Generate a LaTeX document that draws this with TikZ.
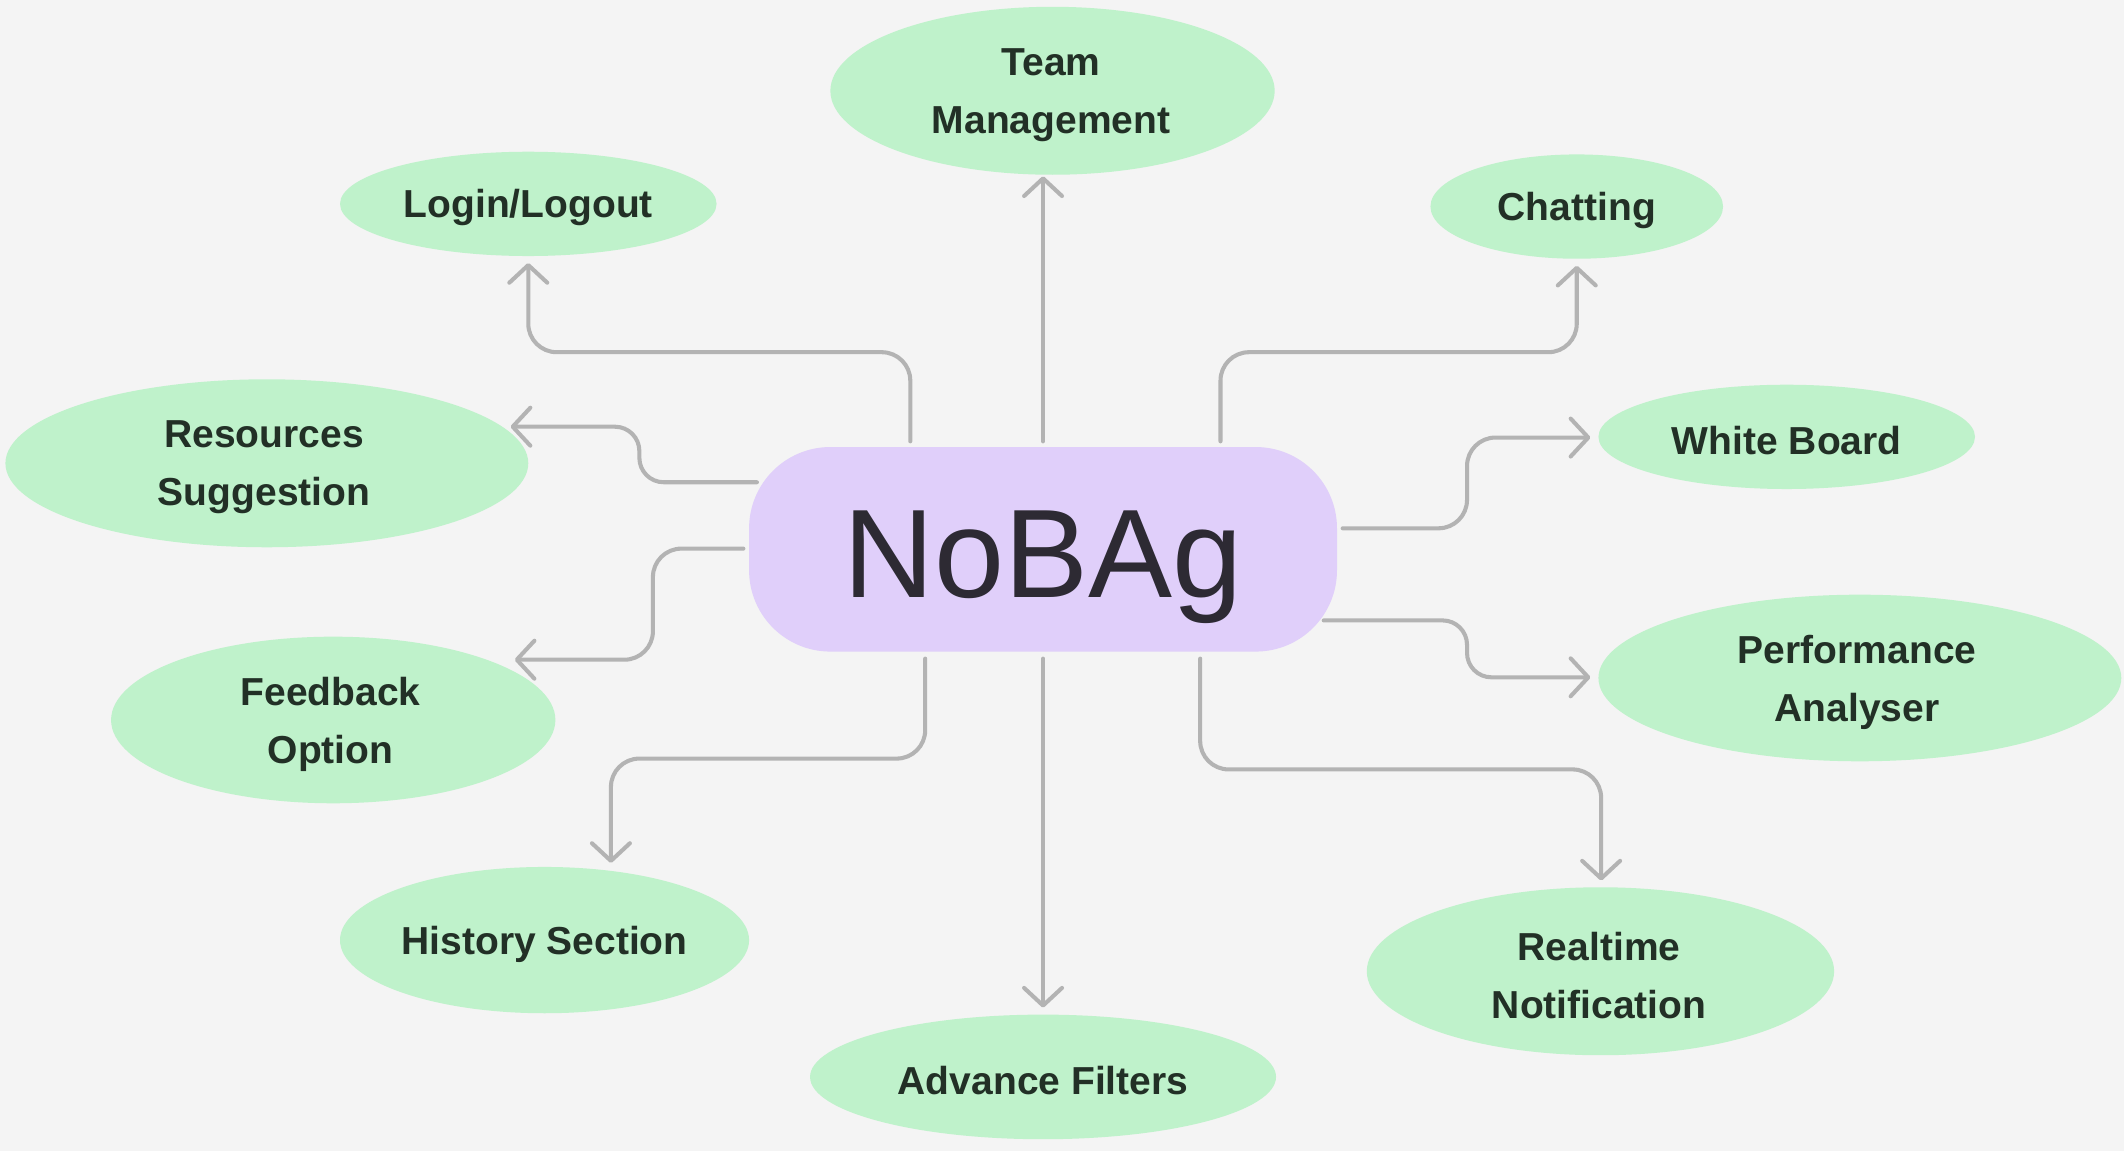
\documentclass[tikz,border=0pt]{standalone}
\usepackage{fontspec}
\setmainfont{Liberation Sans}
\usetikzlibrary{shapes.geometric,arrows.meta,calc}
\definecolor{bg}{HTML}{F4F4F4}
\definecolor{mint}{HTML}{BFF2CB}
\definecolor{lav}{HTML}{E0CFFA}
\definecolor{ink}{HTML}{223026}
\definecolor{dark}{HTML}{2D2A33}
\definecolor{wire}{HTML}{B3B3B3}
\begin{document}
\begin{tikzpicture}[x=1pt,y=-1pt,
  leaf/.style={ellipse,fill=mint,inner sep=0pt},
  leaftext/.style={inner sep=0pt,align=center,text=ink,
    font=\bfseries\fontsize{28.8}{43}\selectfont},
  conn/.style={draw=wire,line width=3pt,line cap=round,rounded corners=21pt,
    -{Straight Barb[length=13pt,width=28pt,round]}},
  hub/.style={fill=lav,rounded corners=60pt,minimum width=434pt,minimum height=151pt,inner sep=0pt}]
\fill[bg] (0,0) rectangle (1568,849.7);
\useasboundingbox (0,0) rectangle (1568,849.7);
% hub
\node[hub] (c) at (770,405.5) {};
\node[anchor=base,text=dark,font=\fontsize{93}{93}\selectfont,inner sep=0pt] (ct) at (770,441) {NoBAg};
% leaves
\node[leaf,minimum width=328pt,minimum height=124pt] (team) at (777,67) {};
\node[leaf,minimum width=278pt,minimum height=77pt] (login) at (390,150.5) {};
\node[leaf,minimum width=216pt,minimum height=77pt] (chat) at (1164,152.5) {};
\node[leaf,minimum width=386pt,minimum height=124pt] (res) at (197,342) {};
\node[leaf,minimum width=278pt,minimum height=77pt] (wb) at (1319,322.5) {};
\node[leaf,minimum width=328pt,minimum height=123pt] (fb) at (246,531.5) {};
\node[leaf,minimum width=386pt,minimum height=123pt] (perf) at (1373,500.5) {};
\node[leaf,minimum width=302pt,minimum height=108pt] (hist) at (402,694) {};
\node[leaf,minimum width=344pt,minimum height=92pt] (adv) at (770,795) {};
\node[leaf,minimum width=345pt,minimum height=124pt] (rt) at (1181.5,717) {};
% leaf texts
\node[leaftext] (teamt) at ($(team.center)+(-1,3.5)$) {Team\\Management};
\node[leaftext] (logint) at ($(login.center)+(0,3)$) {Login/Logout};
\node[leaftext] (chatt) at ($(chat.center)+(0,3)$) {Chatting};
\node[leaftext] (rest) at ($(res.center)+(-2,3)$) {Resources\\Suggestion};
\node[leaftext] (wbt) at ($(wb.center)+(0,3)$) {White Board};
\node[leaftext] (fbt) at ($(fb.center)+(-2,3)$) {Feedback\\Option};
\node[leaftext] (perft) at ($(perf.center)+(-2,3)$) {Performance\\Analyser};
\node[leaftext] (histt) at ($(hist.center)+(0,3)$) {History Section};
\node[leaftext] (advt) at ($(adv.center)+(0,3)$) {Advance Filters};
\node[leaftext] (rtt) at ($(rt.center)+(-1,3)$) {Realtime\\Notification};
% connectors
\draw[conn,shorten <=4pt,shorten >=5pt] (c.north -| 672,0) -- (672,260) -- (390,260) -- (login.south);
\draw[conn,shorten <=4pt,shorten >=1pt] (c.north -| 770,0) -- (team.south -| 770,0);
\draw[conn,shorten <=4pt,shorten >=5pt] (c.north -| 901,0) -- (901,260) -- (1164,260) -- (chat.south);
\draw[conn,rounded corners=18pt] ($(c.west |- 0,356)+(6,0)$) -- (472,356) -- (472,315) -- (377,315);
\draw[conn,shorten <=4pt] (c.west |- 0,405) -- (482,405) -- (482,487) -- (380,487);
\draw[conn,shorten <=4pt] (c.east |- 0,390) -- (1083,390) -- (1083,323) -- (1174,323);
\draw[conn,rounded corners=18pt] ($(c.east |- 0,458)+(-10,0)$) -- (1083,458) -- (1083,500) -- (1174,500);
\draw[conn,shorten <=5pt] (c.south -| 683,0) -- (683,560) -- (451,560) -- (451,637);
\draw[conn,shorten <=5pt,shorten >=5pt] (c.south -| 770,0) -- (adv.north -| 770,0);
\draw[conn,shorten <=5pt] (c.south -| 886,0) -- (886,568) -- (1182,568) -- (1182,650);
\end{tikzpicture}
\end{document}
